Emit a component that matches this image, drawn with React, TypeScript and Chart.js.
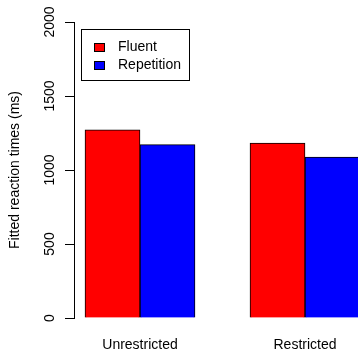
import React, { useEffect, useRef } from "react";
import { Chart, registerables } from "chart.js";

Chart.register(...registerables);

const categories = ["Unrestricted", "Restricted"];
const seriesNames = ["Fluent", "Repetition"];
const fluentValues = [1272, 1182];
const repetitionValues = [1171, 1088];
const seriesColors = ["#FF0000", "#0000FF"];
const yTickValues = [0, 500, 1000, 1500, 2000];
const yTitle = "Fitted reaction times (ms)";

const FONT = '"Liberation Sans", Arial, Helvetica, sans-serif';

// bar slot positions (R barplot style: space = c(0, 1))
const barX = (group: number, series: number) => 1.5 + group * 3 + series;
const groupCenter = (group: number) => 2 + group * 3;

const overlayPlugin = {
  id: "overlay",
  afterDraw(chart: any) {
    const ctx = chart.ctx;
    const y = chart.scales.y;
    ctx.save();
    // rotated y tick labels
    ctx.fillStyle = "#000";
    ctx.font = `14px ${FONT}`;
    ctx.textAlign = "center";
    ctx.textBaseline = "alphabetic";
    for (const t of y.ticks) {
      const py = y.getPixelForValue(t.value);
      ctx.save();
      ctx.translate(54, py);
      ctx.rotate(-Math.PI / 2);
      ctx.fillText(String(t.value), 0, 0);
      ctx.restore();
    }
    // legend
    const lx = 81.5, ly = 29.5, lw = 108, lh = 51;
    ctx.strokeStyle = "#000";
    ctx.lineWidth = 1;
    ctx.strokeRect(lx, ly, lw, lh);
    ctx.textAlign = "left";
    ctx.textBaseline = "middle";
    seriesNames.forEach((name, i) => {
      const cy = 47.5 + i * 17.5;
      ctx.fillStyle = seriesColors[i];
      ctx.fillRect(94, Math.round(cy - 4.5), 11, 9);
      ctx.strokeStyle = "#000";
      ctx.strokeRect(94.5, Math.round(cy - 4.5) + 0.5, 10, 8);
      ctx.fillStyle = "#000";
      ctx.fillText(name, 118, cy);
    });
    ctx.restore();
  },
};

export default function App() {
  const ref = useRef<HTMLCanvasElement | null>(null);

  useEffect(() => {
    if (!ref.current) return;
    const values = [fluentValues, repetitionValues];
    const chart = new Chart(ref.current, {
      type: "bar",
      data: {
        datasets: seriesNames.map((name, s) => ({
          label: name,
          data: categories.map((_, g) => ({ x: barX(g, s), y: values[s][g] })),
          backgroundColor: seriesColors[s],
          borderColor: "#000",
          borderWidth: 1,
          grouped: false,
          barPercentage: 1,
          categoryPercentage: 1,
        })),
      },
      options: {
        animation: false,
        responsive: false,
        maintainAspectRatio: false,
        devicePixelRatio: 1,
        layout: { padding: { left: 0, top: 22, right: 29, bottom: 0 } },
        plugins: { legend: { display: false }, tooltip: { enabled: false } },
        scales: {
          x: {
            type: "linear",
            min: 0.8,
            max: 6.2,
            offset: false,
            grid: { display: false, drawTicks: false },
            border: { display: false },
            afterBuildTicks: (axis: any) => {
              axis.ticks = categories.map((_, g) => ({ value: groupCenter(g) }));
            },
            afterFit: (axis: any) => {
              axis.height = 32;
            },
            ticks: {
              autoSkip: false,
              maxRotation: 0,
              minRotation: 0,
              padding: 19,
              color: "#000",
              font: { family: FONT, size: 14 },
              callback: (_v: any, i: number) => categories[i],
            },
          },
          y: {
            type: "linear",
            min: 0,
            max: 2000,
            afterBuildTicks: (axis: any) => {
              axis.ticks = yTickValues.map((v) => ({ value: v }));
            },
            afterFit: (axis: any) => {
              axis.width = 74;
            },
            grid: {
              display: true,
              drawOnChartArea: false,
              drawTicks: true,
              tickLength: 9,
              color: "#000",
              lineWidth: 1,
            },
            border: { display: true, color: "#000", width: 1 },
            ticks: { display: false },
            title: {
              display: true,
              text: yTitle,
              color: "#000",
              font: { family: FONT, size: 14 },
              padding: { top: 7, bottom: 0 },
            },
          },
        },
      },
      plugins: [overlayPlugin],
    });
    return () => chart.destroy();
  }, []);

  return (
    <div
      style={{
        position: "fixed",
        left: 0,
        top: 0,
        width: 358,
        height: 350,
        overflow: "hidden",
        background: "#fff",
      }}
    >
      <canvas ref={ref} width={400} height={350} style={{ display: "block" }} />
    </div>
  );
}
